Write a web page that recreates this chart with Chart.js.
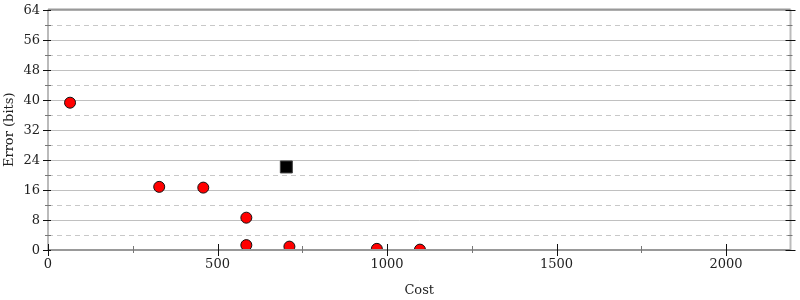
<!DOCTYPE html>
<html>
<head>
<meta charset="utf-8">
<script src="https://cdn.jsdelivr.net/npm/chart.js"></script>
<style>
  html, body { margin: 0; padding: 0; background: #fff; }
  #wrap { width: 800px; height: 300px; }
</style>
</head>
<body>
<div id="wrap"><canvas id="chart"></canvas></div>
<script>
const redCost = [65, 328, 458, 585, 585, 712, 970, 1097];
const redError = [39.2, 16.8, 16.6, 8.6, 1.3, 0.9, 0.3, 0.1];
const squareCost = [703];
const squareError = [22.1];

const xTicks = [0, 500, 1000, 1500, 2000];
const xMinorTicks = [250, 750, 1250, 1750];
const yTicks = [0, 8, 16, 24, 32, 40, 48, 56, 64];
const yMinorTicks = [4, 12, 20, 28, 36, 44, 52, 60];

const toPoints = (xs, ys) => xs.map((x, i) => ({ x, y: ys[i] }));
const FONT = "'DejaVu Serif', serif";

// grid, frame, tick marks and tick labels, all placed through the scales
const framePlugin = {
  id: "frame",
  beforeDatasetsDraw(chart) {
    const { ctx, chartArea: a, scales: { y } } = chart;
    ctx.save();
    ctx.lineWidth = 1;
    ctx.strokeStyle = "#c0c0c0";
    yTicks.forEach((v) => {
      const py = Math.round(y.getPixelForValue(v)) + 0.5;
      ctx.beginPath();
      ctx.moveTo(a.left, py);
      ctx.lineTo(a.right, py);
      ctx.stroke();
    });
    ctx.strokeStyle = "#c8c8c8";
    ctx.setLineDash([5, 4]);
    yMinorTicks.forEach((v) => {
      const py = Math.round(y.getPixelForValue(v)) + 0.5;
      ctx.beginPath();
      ctx.moveTo(a.left, py);
      ctx.lineTo(a.right, py);
      ctx.stroke();
    });
    ctx.restore();
  },
  afterDraw(chart) {
    const { ctx, chartArea: a, scales: { x, y } } = chart;
    ctx.save();
    ctx.lineWidth = 2;
    ctx.strokeStyle = "#bbbbbb";
    ctx.beginPath();
    ctx.moveTo(a.left, a.top); ctx.lineTo(a.left, a.bottom);
    ctx.moveTo(a.right, a.top); ctx.lineTo(a.right, a.bottom);
    ctx.stroke();
    ctx.strokeStyle = "#999999";
    ctx.beginPath();
    ctx.moveTo(a.left, a.top); ctx.lineTo(a.right, a.top);
    ctx.moveTo(a.left, a.bottom); ctx.lineTo(a.right, a.bottom);
    ctx.stroke();

    ctx.lineWidth = 1;
    yTicks.forEach((v) => {
      const py = Math.round(y.getPixelForValue(v)) + 0.5;
      ctx.strokeStyle = "#111";
      ctx.beginPath();
      ctx.moveTo(a.left - 5, py); ctx.lineTo(a.left + 3, py);
      ctx.moveTo(a.right - 5, py); ctx.lineTo(a.right + 5, py);
      ctx.stroke();
    });
    yMinorTicks.forEach((v) => {
      const py = Math.round(y.getPixelForValue(v)) + 0.5;
      ctx.strokeStyle = "#777";
      ctx.beginPath();
      ctx.moveTo(a.left - 3, py); ctx.lineTo(a.left + 3, py);
      ctx.moveTo(a.right - 3, py); ctx.lineTo(a.right + 2, py);
      ctx.stroke();
    });
    xTicks.forEach((v) => {
      const px = Math.round(x.getPixelForValue(v)) + 0.5;
      ctx.strokeStyle = "#111";
      ctx.beginPath();
      ctx.moveTo(px, a.bottom - 6); ctx.lineTo(px, a.bottom + 6);
      ctx.stroke();
    });
    xMinorTicks.forEach((v) => {
      const px = Math.round(x.getPixelForValue(v)) + 0.5;
      ctx.strokeStyle = "#777";
      ctx.beginPath();
      ctx.moveTo(px, a.bottom - 4); ctx.lineTo(px, a.bottom + 3);
      ctx.stroke();
    });

    ctx.fillStyle = "#222";
    ctx.font = "13px " + FONT;
    ctx.textAlign = "right";
    ctx.textBaseline = "middle";
    yTicks.forEach((v) => {
      ctx.fillText(String(v), a.left - 8, y.getPixelForValue(v) + 1);
    });
    ctx.textAlign = "center";
    ctx.textBaseline = "top";
    xTicks.forEach((v) => {
      ctx.fillText(String(v), x.getPixelForValue(v), a.bottom + 8);
    });
    ctx.restore();
  },
};

new Chart(document.getElementById("chart"), {
  type: "scatter",
  data: {
    datasets: [
      {
        data: toPoints(redCost, redError),
        backgroundColor: "#ff0000",
        borderColor: "#111",
        borderWidth: 1,
        pointRadius: 5.5,
        pointHoverRadius: 5.5,
        clip: 0,
      },
      {
        data: toPoints(squareCost, squareError),
        pointStyle: "rect",
        backgroundColor: "#000",
        borderColor: "#444",
        borderWidth: 1,
        pointRadius: 8.5,
        pointHoverRadius: 8.5,
        clip: 0,
      },
    ],
  },
  options: {
    responsive: true,
    maintainAspectRatio: false,
    animation: false,
    layout: { padding: { top: 7, right: 7, left: 0, bottom: 0 } },
    plugins: {
      legend: { display: false },
      tooltip: { enabled: false },
    },
    scales: {
      x: {
        type: "linear",
        min: 0,
        max: 2190,
        afterFit(scale) {
          scale.height = 50;
        },
        grid: { display: false },
        border: { display: false },
        ticks: { display: false },
        title: {
          display: true,
          text: "Cost",
          color: "#222",
          font: { family: FONT, size: 13 },
          padding: { top: 0, bottom: 2 },
        },
      },
      y: {
        min: 0,
        max: 64,
        afterFit(scale) {
          scale.width = 48;
        },
        grid: { display: false },
        border: { display: false },
        ticks: { display: false },
        title: {
          display: true,
          text: "Error (bits)",
          color: "#222",
          font: { family: FONT, size: 13 },
          padding: { top: 2, bottom: 0 },
        },
      },
    },
  },
  plugins: [framePlugin],
});
</script>
</body>
</html>
